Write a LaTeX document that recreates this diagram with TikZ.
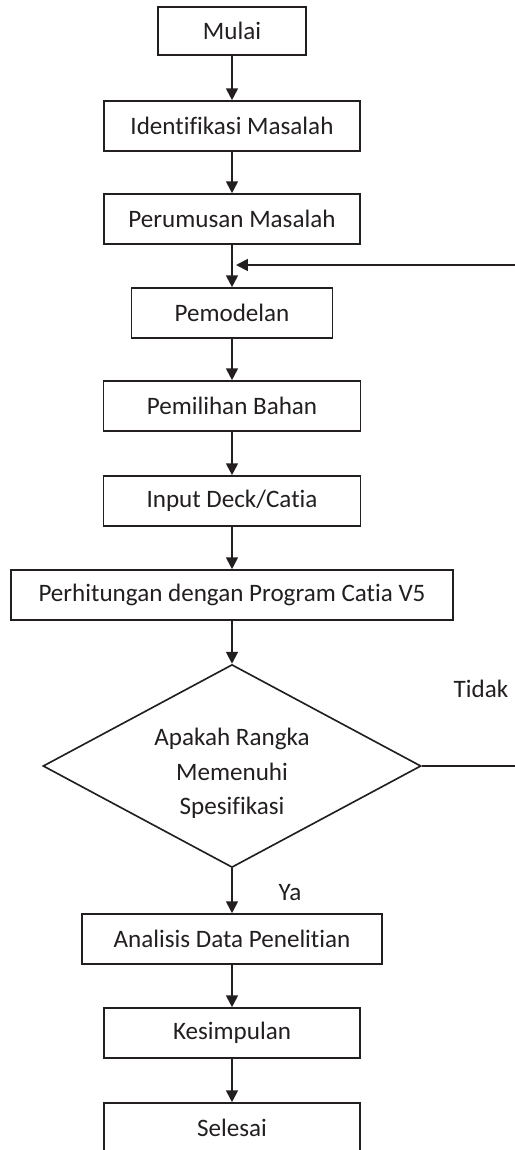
\documentclass[tikz,border=0pt]{standalone}
\usepackage{fontspec}
\setmainfont{Carlito}[Ligatures=NoCommon]
\usetikzlibrary{arrows.meta,shapes.geometric}
\definecolor{ink}{HTML}{231F20}

\begin{document}
\begin{tikzpicture}[x=0.55pt,y=-0.55pt,color=ink,
      font=\fontsize{13.8}{16}\selectfont,
      b/.style={draw,line width=0.9pt,inner sep=0pt,minimum height=27.5pt},
      ar/.style={-{Triangle[length=6.5pt,width=6.5pt]},line width=1.1pt}]
    \path[use as bounding box] (0,0) rectangle (515,1150);
    \clip (0,0) rectangle (515,1150);
    \node[b,minimum width=81.4pt,minimum height=26.4pt] (mul) at (232,31) {Mulai};
    \node[b,minimum width=140.8pt] (idn) at (232,126) {Identifikasi Masalah};
    \node[b,minimum width=140.8pt] (rum) at (232,219) {Perumusan Masalah};
    \node[b,minimum width=110.5pt] (mod) at (232,313) {Pemodelan};
    \node[b,minimum width=141.3pt] (bah) at (232,406) {Pemilihan Bahan};
    \node[b,minimum width=141.3pt] (inp) at (232,501) {Input Deck/Catia};
    \node[b,minimum width=243.1pt] (hit) at (232,595) {Perhitungan dengan Program Catia V5};
    \node[draw,diamond,shape aspect=1.86,line width=0.9pt,inner sep=0pt,
          minimum width=207.9pt,minimum height=111.6pt,
          font=\fontsize{13.8}{19.2}\selectfont] (cek) at (232,766)
      {\raisebox{-3.9pt}[\height][\depth]{\begin{tabular}{@{}c@{}}Apakah Rangka\\Memenuhi\\Spesifikasi\end{tabular}}};
    \node[b,minimum width=165pt] (ana) at (232,939) {Analisis Data Penelitian};
    \node[b,minimum width=140.8pt] (kes) at (232,1033) {Kesimpulan};
    \node[b,minimum width=140.8pt] (sel) at (232,1128) {Selesai};
    \foreach \p/\q in {mul/idn,idn/rum,rum/mod,mod/bah,bah/inp,inp/hit,
                       hit/cek,cek/ana,ana/kes,kes/sel}
      \draw[ar] (\p) -- (\q);
    % back to the model when the frame fails
    \coordinate (fb) at (236,265);
    \draw[ar,line width=1pt] (cek.east) -- ++(150,0) |- (fb);
    \node (tdk) at (481,689) {Tidak};
    \node (ya) at (290,893) {Ya};
\end{tikzpicture}
\end{document}
